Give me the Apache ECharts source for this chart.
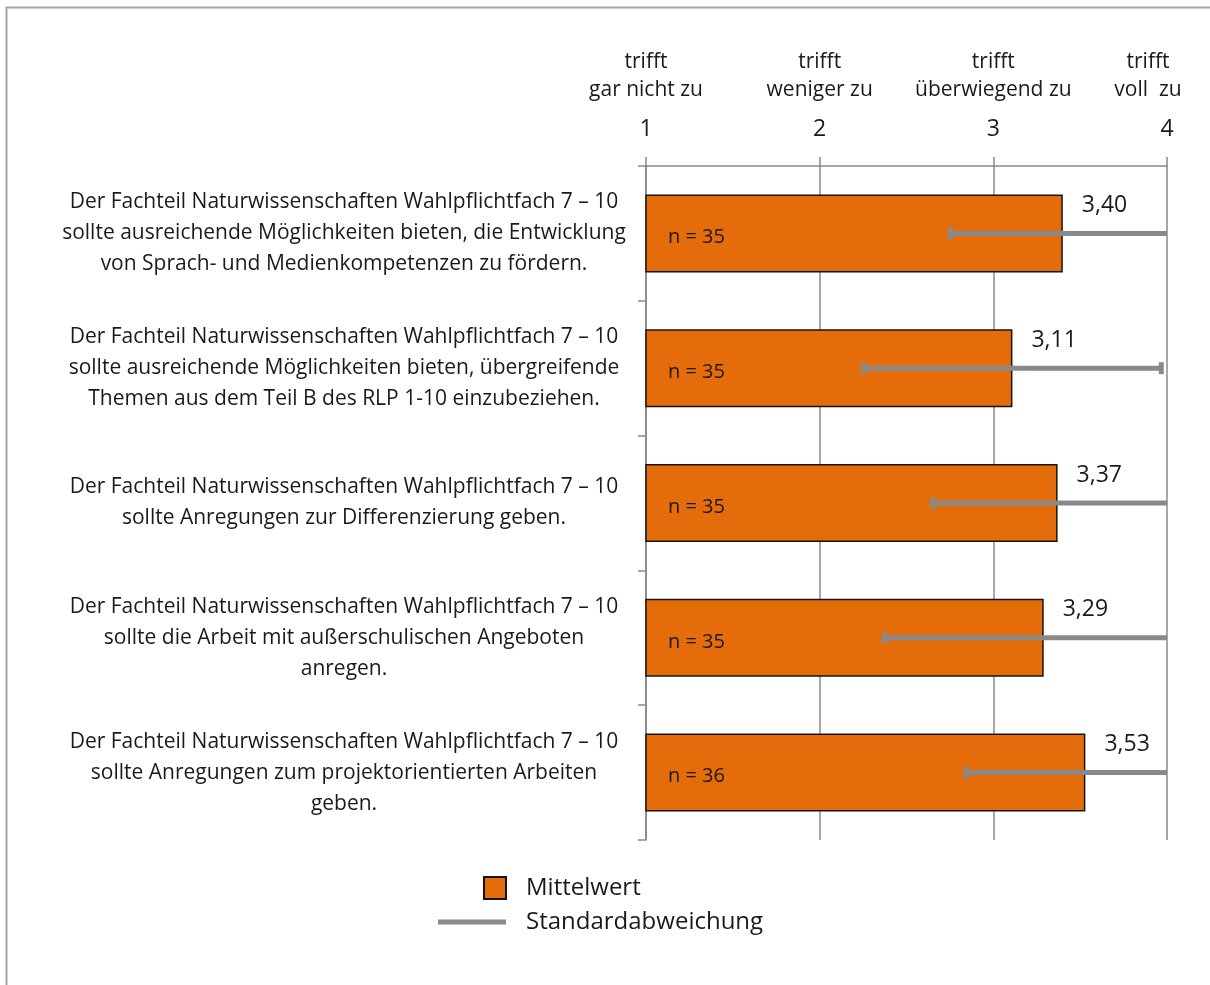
<!DOCTYPE html>
<html>
<head>
<meta charset="utf-8">
<script src="https://cdn.jsdelivr.net/npm/echarts@6/dist/echarts.min.js"></script>
<style>
html,body{margin:0;padding:0;background:#fff;}
#chart{width:1210px;height:985px;}
</style>
</head>
<body>
<div id="chart"></div>
<script>
var categories = [
  'Der Fachteil Naturwissenschaften Wahlpflichtfach 7 – 10\nsollte ausreichende Möglichkeiten bieten, die Entwicklung\nvon Sprach- und Medienkompetenzen zu fördern.',
  'Der Fachteil Naturwissenschaften Wahlpflichtfach 7 – 10\nsollte ausreichende Möglichkeiten bieten, übergreifende\nThemen aus dem Teil B des RLP 1-10 einzubeziehen.',
  'Der Fachteil Naturwissenschaften Wahlpflichtfach 7 – 10\nsollte Anregungen zur Differenzierung geben.',
  'Der Fachteil Naturwissenschaften Wahlpflichtfach 7 – 10\nsollte die Arbeit mit außerschulischen Angeboten\nanregen.',
  'Der Fachteil Naturwissenschaften Wahlpflichtfach 7 – 10\nsollte Anregungen zum projektorientierten Arbeiten\ngeben.'
];
var means = [3.40, 3.11, 3.37, 3.29, 3.53];
var sds = [0.65, 0.86, 0.72, 0.92, 0.69];
var counts = [35, 35, 35, 35, 36];
var tickLabels = ['1', '2', '3', '4'];
var scaleLabels = ['trifft\ngar nicht zu', 'trifft\nweniger zu', 'trifft\nüberwiegend zu', 'trifft\nvoll  zu'];

var FONT = '"Open Sans", sans-serif';
var TXT = '#1a1a1a';
var GRAY = '#898989';
var AXMIN = 1, AXMAX = 4;

var chart = echarts.init(document.getElementById('chart'));

var errData = means.map(function (m, i) { return [m, i, sds[i], counts[i]]; });

var option = {
  animation: false,
  textStyle: { fontFamily: FONT },
  graphic: [{
    type: 'rect', left: 4, top: 5, z: -10,
    shape: { width: 1400, height: 1200 },
    style: { fill: 'none', stroke: '#a6a6a6', lineWidth: 2 }
  }],
  grid: { left: 646, right: 43, top: 166, bottom: 145, containLabel: false, outerBoundsMode: 'none' },
  xAxis: [{
    type: 'value', position: 'top', min: AXMIN, max: AXMAX, interval: 1,
    axisLine: { show: true, lineStyle: { color: GRAY, width: 1.5 } },
    axisTick: { show: true, length: 9, lineStyle: { color: GRAY, width: 1.5 } },
    splitLine: { show: true, lineStyle: { color: GRAY, width: 1.5 } },
    axisLabel: {
      margin: 25, fontSize: 23, color: TXT, fontFamily: FONT,
      formatter: function (v) { return tickLabels[Math.round(v) - 1]; }
    }
  }, {
    type: 'value', position: 'top', min: AXMIN, max: AXMAX, interval: 1,
    axisLine: { show: false }, axisTick: { show: false }, splitLine: { show: false },
    axisLabel: {
      margin: 62, color: TXT, fontFamily: FONT,
      formatter: function (v) {
        var i = Math.round(v) - 1;
        var s = scaleLabels[i].split('\n');
        var st = i === 3 ? 'e' : 'd';
        return '{' + st + '|' + s[0] + '}\n{' + st + '|' + s[1] + '}';
      },
      rich: {
        d: { fontSize: 21, lineHeight: 28, color: TXT, fontFamily: FONT },
        e: { fontSize: 21, lineHeight: 28, color: TXT, fontFamily: FONT, padding: [0, 38, 0, 0] }
      }
    }
  }],
  yAxis: {
    type: 'category', inverse: true, data: categories,
    axisLine: { show: true, lineStyle: { color: GRAY, width: 1.5 } },
    axisTick: { show: true, length: 8, lineStyle: { color: GRAY, width: 1.5 } },
    axisLabel: {
      margin: 302, align: 'center', fontSize: 21, lineHeight: 31,
      padding: [6, 0, 0, 0],
      color: TXT, fontFamily: FONT
    }
  },
  legend: [{
    data: [{ name: 'Mittelwert', icon: 'rect' }], orient: 'vertical', left: 483, top: 876, padding: 0,
    itemWidth: 22, itemHeight: 22, selectedMode: false,
    textStyle: { fontSize: 24, color: TXT, fontFamily: FONT, padding: [0, 0, 0, 15] }
  }, {
    data: [{ name: 'Standardabweichung', icon: 'rect', itemStyle: { color: GRAY } }],
    orient: 'vertical', left: 438, top: 910, padding: 0,
    itemWidth: 68, itemHeight: 5, selectedMode: false,
    textStyle: { fontSize: 24, color: TXT, fontFamily: FONT, padding: [0, 0, 0, 15] }
  }],
  series: [{
    name: 'Mittelwert', type: 'bar', data: means, barWidth: 78,
    itemStyle: { color: '#E46C0A', borderColor: '#141414', borderWidth: 1.5 },
    label: {
      show: true, position: 'right', distance: 19, offset: [0, -28],
      fontSize: 23, color: TXT, fontFamily: FONT,
      formatter: function (p) { return p.value.toFixed(2).replace('.', ','); }
    },
    z: 2
  }, {
    name: 'Standardabweichung', type: 'custom', data: errData,
    itemStyle: { color: GRAY },
    encode: { x: 0, y: 1 },
    clip: false,
    z: 5,
    renderItem: function (params, api) {
      var m = api.value(0), idx = api.value(1), sd = api.value(2), n = api.value(3);
      var lo = m - sd, hi = m + sd;
      var capHi = hi <= AXMAX;
      if (hi > AXMAX) hi = AXMAX;
      var p0 = api.coord([lo, idx]);
      var p1 = api.coord([hi, idx]);
      var pb = api.coord([AXMIN, idx]);
      var y = p0[1];
      var children = [{
        type: 'line', shape: { x1: p0[0], y1: y, x2: p1[0], y2: y },
        style: { stroke: GRAY, lineWidth: 5 }
      }, {
        type: 'rect', shape: { x: p0[0] - 2, y: y - 6, width: 5, height: 12 },
        style: { fill: GRAY }
      }, {
        type: 'text', x: pb[0] + 22, y: y + 4,
        style: { text: 'n = ' + n, fill: TXT, fontSize: 20, fontFamily: FONT,
                 verticalAlign: 'middle', align: 'left' }
      }];
      if (capHi) {
        children.push({
          type: 'rect', shape: { x: p1[0] - 3, y: y - 6, width: 5, height: 12 },
          style: { fill: GRAY }
        });
      }
      return { type: 'group', children: children };
    }
  }]
};
chart.setOption(option);
</script>
</body>
</html>
